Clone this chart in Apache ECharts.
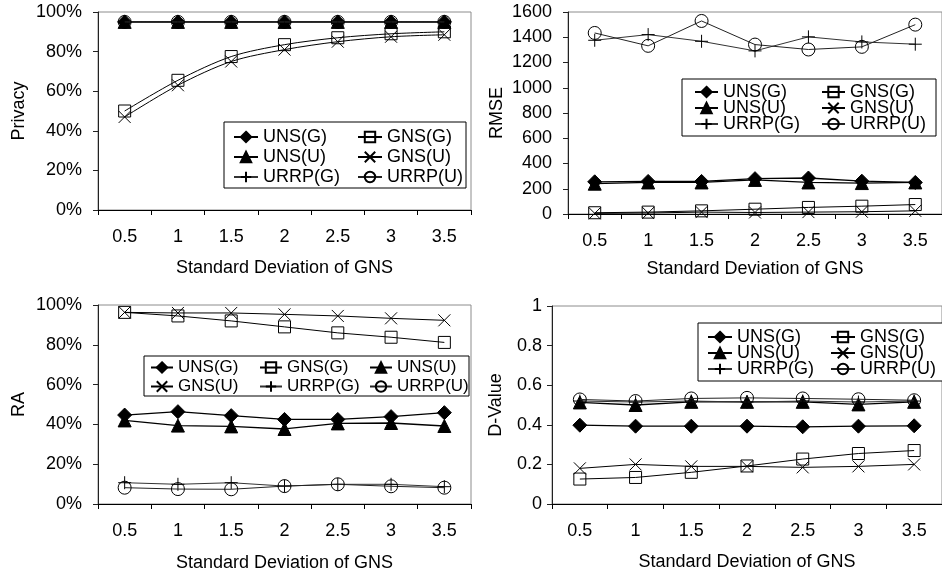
<!DOCTYPE html>
<html>
<head>
<meta charset="utf-8">
<script src="https://cdn.jsdelivr.net/npm/echarts@6/dist/echarts.min.js"></script>
<style>
  html, body { margin: 0; padding: 0; background: #fff; }
  #chart { width: 942px; height: 574px; }
</style>
</head>
<body>
<div id="chart"></div>
<script>
// Shared x categories (standard deviation of GNS) and series names
const categories = ['0.5', '1', '1.5', '2', '2.5', '3', '3.5'];
const seriesNames = ['UNS(G)', 'GNS(G)', 'UNS(U)', 'GNS(U)', 'URRP(G)', 'URRP(U)'];

// Privacy (%)
const privacyUnsG  = [95, 95, 95, 95, 95, 95, 95];
const privacyGnsG  = [50, 65.5, 77.5, 83.5, 87, 89, 90];
const privacyUnsU  = [95, 95, 95, 95, 95, 95, 95];
const privacyGnsU  = [47, 63, 75, 81, 85, 87.5, 88.5];
const privacyUrrpG = [95, 95, 95, 95, 95, 95, 95];
const privacyUrrpU = [95, 95, 95, 95, 95, 95, 95];

// RMSE
const rmseUnsG  = [255, 258, 258, 280, 285, 260, 250];
const rmseGnsG  = [10, 15, 25, 38, 52, 62, 75];
const rmseUnsU  = [240, 250, 250, 270, 250, 245, 250];
const rmseGnsU  = [5, 8, 15, 12, 15, 18, 25];
const rmseUrrpG = [1376, 1421, 1368, 1292, 1403, 1363, 1345];
const rmseUrrpU = [1434, 1332, 1529, 1342, 1303, 1324, 1500];

// RA (%)
const raUnsG  = [44.7, 46.4, 44.4, 42.5, 42.5, 43.9, 45.9];
const raGnsG  = [96.3, 94.5, 92, 89, 86, 83.8, 81.2];
const raUnsU  = [42, 39.4, 39, 37.7, 40.5, 40.7, 39.2];
const raGnsU  = [96.3, 96, 96, 95.3, 94.5, 93.3, 92.3];
const raUrrpG = [10.7, 9.9, 10.7, 9, 9.9, 9.9, 8.7];
const raUrrpU = [8.2, 7.5, 7.4, 9, 9.9, 8.9, 8.2];

// D-Value
const dUnsG  = [0.398, 0.393, 0.393, 0.393, 0.39, 0.393, 0.395];
const dGnsG  = [0.126, 0.134, 0.16, 0.192, 0.227, 0.255, 0.27];
const dUnsU  = [0.513, 0.5, 0.516, 0.516, 0.516, 0.503, 0.516];
const dGnsU  = [0.18, 0.2, 0.19, 0.19, 0.185, 0.19, 0.2];
const dUrrpG = [0.52, 0.515, 0.52, 0.515, 0.52, 0.515, 0.52];
const dUrrpU = [0.528, 0.52, 0.533, 0.536, 0.533, 0.529, 0.524];

// Per-panel value axis settings
const yMax = [100, 1600, 100, 1];
const yInterval = [20, 200, 20, 0.2];
const yTitles = ['Privacy', 'RMSE', 'RA', 'D-Value'];
const xTitle = 'Standard Deviation of GNS';

const panelData = [
  [privacyUnsG, privacyGnsG, privacyUnsU, privacyGnsU, privacyUrrpG, privacyUrrpU],
  [rmseUnsG, rmseGnsG, rmseUnsU, rmseGnsU, rmseUrrpG, rmseUrrpU],
  [raUnsG, raGnsG, raUnsU, raGnsU, raUrrpG, raUrrpU],
  [dUnsG, dGnsG, dUnsU, dGnsU, dUrrpG, dUrrpU]
];
// The privacy panel uses smoothed curves
const panelSmooth = [0.3, false, false, false];

const FONT = '"Liberation Sans", Arial, sans-serif';
const INK = '#000';
const CLEAR = 'rgba(0,0,0,0)';

// Marker look for each series (same order as seriesNames)
const markerStyles = [
  { symbol: 'diamond', size: 14, fill: INK, line: INK, lw: 1.3 },
  { symbol: 'rect', size: 12, fill: CLEAR, line: INK, lw: 1 },
  { symbol: 'triangle', size: 13, fill: INK, line: INK, lw: 1.3 },
  { symbol: 'path://M0,0L10,10M10,0L0,10', size: 12, fill: CLEAR, line: INK, lw: 1 },
  { symbol: 'path://M5,0L5,10M0,5L10,5', size: 13, fill: CLEAR, line: '#333', lw: 1 },
  { symbol: 'circle', size: 13, fill: CLEAR, line: '#222', lw: 1 }
];

const grids = [
  { left: 98, top: 12, width: 373, height: 198 },
  { left: 568, top: 12, width: 378, height: 202 },
  { left: 98, top: 305, width: 373, height: 199 },
  { left: 552, top: 306, width: 393, height: 198 }
].map(g => Object.assign(g, { show: true, borderColor: '#8c8c8c', borderWidth: 1, backgroundColor: CLEAR }));

const yNameGap = [70, 62, 70, 47];
const yLabelMargin = [16, 16, 16, 10];
const xNameGap = [49.5, 46.5, 50, 49.5];

const xAxes = grids.map((g, i) => ({
  type: 'category',
  gridIndex: i,
  data: categories,
  boundaryGap: true,
  axisLine: { lineStyle: { color: INK, width: 1 } },
  axisTick: { show: true, length: 5, lineStyle: { color: INK } },
  axisLabel: { color: INK, fontFamily: FONT, fontSize: 18, margin: 18 },
  name: xTitle,
  nameLocation: 'middle',
  nameGap: xNameGap[i],
  nameTextStyle: { color: INK, fontFamily: FONT, fontSize: 18 }
}));

const yAxes = grids.map((g, i) => ({
  type: 'value',
  gridIndex: i,
  min: 0,
  max: yMax[i],
  interval: yInterval[i],
  splitLine: { show: false },
  axisLine: { show: true, lineStyle: { color: '#222', width: 1 } },
  axisTick: { show: true, length: 5, lineStyle: { color: '#222' } },
  axisLabel: {
    color: INK, fontFamily: FONT, fontSize: 18, margin: yLabelMargin[i],
    formatter: (i === 0 || i === 2) ? '{value}%' : (v => String(+v.toFixed(1)))
  },
  name: yTitles[i],
  nameLocation: 'middle',
  nameGap: yNameGap[i],
  nameTextStyle: { color: INK, fontFamily: FONT, fontSize: 18 }
}));

const series = [];
panelData.forEach((values, p) => {
  values.forEach((arr, s) => {
    const m = markerStyles[s];
    series.push({
      type: 'line',
      name: seriesNames[s],
      xAxisIndex: p,
      yAxisIndex: p,
      data: arr,
      smooth: panelSmooth[p],
      symbol: m.symbol,
      symbolSize: m.size,
      showAllSymbol: true,
      lineStyle: { color: m.line, width: m.lw },
      itemStyle: { color: m.fill, borderColor: INK, borderWidth: 1 },
      emphasis: { disabled: true },
      z: 2 + s
    });
  });
});

// Legends: each item gets a fixed text width so the columns line up
function legendBox(cfg) {
  return {
    left: cfg.left, top: cfg.top,
    width: cfg.maxWidth,
    orient: 'horizontal',
    itemGap: cfg.gap,
    itemWidth: cfg.itemWidth,
    itemHeight: 13,
    padding: cfg.padding,
    borderColor: INK,
    borderWidth: 1,
    backgroundColor: '#fff',
    selectedMode: false,
    textStyle: { color: INK, fontFamily: FONT, fontSize: cfg.fontSize, lineHeight: cfg.fontSize },
    data: seriesNames.map((name, k) => ({
      name: name,
      textStyle: { width: cfg.colWidths[k % cfg.colWidths.length] }
    }))
  };
}

const legends = [
  legendBox({ left: 224, top: 122, maxWidth: 236, itemWidth: 24, gap: 2, fontSize: 18,
    padding: [6, 3, 2, 9], colWidths: [92, 76] }),
  legendBox({ left: 682, top: 79, maxWidth: 236, itemWidth: 23, gap: -2, fontSize: 18,
    padding: [4, 10, 3, 12], colWidths: [100, 76] }),
  legendBox({ left: 144, top: 356, maxWidth: 322, itemWidth: 22, gap: 2, fontSize: 17,
    padding: [3, 0, 1, 6], colWidths: [79, 80, 72] }),
  legendBox({ left: 698, top: 323, maxWidth: 236, itemWidth: 24, gap: -2, fontSize: 18,
    padding: [5, 7, 3, 9], colWidths: [95, 76] })
];

const chart = echarts.init(document.getElementById('chart'), null, { renderer: 'canvas' });
chart.setOption({
  animation: false,
  backgroundColor: '#fff',
  grid: grids,
  xAxis: xAxes,
  yAxis: yAxes,
  legend: legends,
  series: series
});
</script>
</body>
</html>
